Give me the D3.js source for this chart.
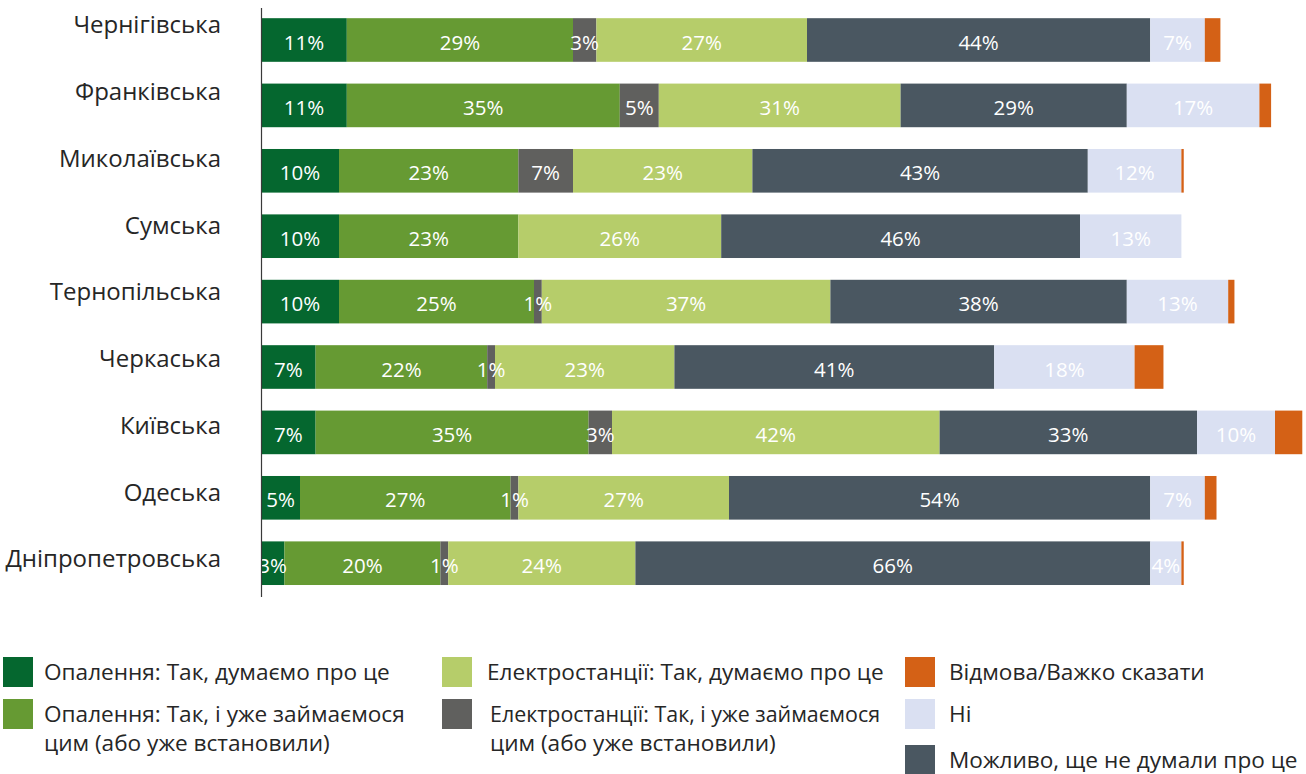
<!DOCTYPE html>
<html>
<head>
<meta charset="utf-8">
<script src="https://cdn.jsdelivr.net/npm/d3@7"></script>
<style>
  html, body { margin: 0; padding: 0; background: #ffffff; }
  svg { display: block; font-family: "Open Sans", "Noto Sans", sans-serif; }
</style>
</head>
<body>
<svg id="chart" width="1306" height="774"></svg>
<script>
// Regions (rows, top to bottom)
const regions = ["Чернігівська", "Франківська", "Миколаївська", "Сумська", "Тернопільська",
                 "Черкаська", "Київська", "Одеська", "Дніпропетровська"];

// Series values, in percent, one entry per region
const heatThinking  = [11, 11, 10, 10, 10, 7, 7, 5, 3];
const heatDoing     = [29, 35, 23, 23, 25, 22, 35, 27, 20];
const powerDoing    = [3, 5, 7, 0, 1, 1, 3, 1, 1];
const powerThinking = [27, 31, 23, 26, 37, 23, 42, 27, 24];
const maybeLater    = [44, 29, 43, 46, 38, 41, 33, 54, 66];
const answerNo      = [7, 17, 12, 13, 13, 18, 10, 7, 4];
const hardToSay     = [2, 1.5, 0.3, 0, 0.8, 3.7, 3.5, 1.5, 0.3];

// Series names as shown in the legend
const seriesNames = {
  heatThinking:  "Опалення: Так, думаємо про це",
  heatDoing:     "Опалення: Так, і уже займаємося\nцим (або уже встановили)",
  powerThinking: "Електростанції: Так, думаємо про це",
  powerDoing:    "Електростанції: Так, і уже займаємося\nцим (або уже встановили)",
  hardToSay:     "Відмова/Важко сказати",
  answerNo:      "Ні",
  maybeLater:    "Можливо, ще не думали про це"
};

const seriesColors = {
  heatThinking:  "#05672f",
  heatDoing:     "#669a33",
  powerDoing:    "#60605e",
  powerThinking: "#b6cd6a",
  maybeLater:    "#4a5761",
  answerNo:      "#dae0f2",
  hardToSay:     "#d46116"
};

// Stacking order left to right
const stackKeys = ["heatThinking", "heatDoing", "powerDoing", "powerThinking", "maybeLater", "answerNo", "hardToSay"];
const seriesValues = { heatThinking, heatDoing, powerDoing, powerThinking, maybeLater, answerNo, hardToSay };

// Keys that get value labels inside the bars
const labelledKeys = new Set(["heatThinking", "heatDoing", "powerDoing", "powerThinking", "maybeLater", "answerNo"]);

const rows = regions.map((r, i) => {
  const o = { region: r };
  stackKeys.forEach(k => o[k] = seriesValues[k][i]);
  return o;
});

const svg = d3.select("#chart");
const axisX = 261;

const x = d3.scaleLinear().domain([0, 100]).range([axisX, axisX + 780]);
const y = d3.scaleBand().domain(regions).range([7.3, 595.9]).paddingInner(0.333).paddingOuter(0.1665);
const yLabel = d3.scalePoint().domain(regions).range([25, 559]);

const stacked = d3.stack().keys(stackKeys)(rows);

const layers = svg.append("g").selectAll("g")
  .data(stacked)
  .join("g")
  .attr("fill", d => seriesColors[d.key]);

layers.selectAll("rect")
  .data(d => d.map(s => ({ key: d.key, s })))
  .join("rect")
  .attr("x", d => x(d.s[0]))
  .attr("y", d => y(d.s.data.region))
  .attr("width", d => Math.max(0, x(d.s[1]) - x(d.s[0])))
  .attr("height", y.bandwidth());

// Value labels
const labels = svg.append("g")
  .attr("font-size", 20.5)
  .attr("fill", "#ffffff")
  .attr("text-anchor", "middle");

stacked.forEach(layer => {
  if (!labelledKeys.has(layer.key)) return;
  layer.forEach(s => {
    const v = s[1] - s[0];
    if (v <= 0) return;
    labels.append("text")
      .attr("x", (x(s[0]) + x(s[1])) / 2)
      .attr("y", y(s.data.region) + y.bandwidth() / 2 + 2.5)
      .attr("dy", "0.35em")
      .text(d3.format(".0f")(v) + "%");
  });
});

// Category axis line
svg.append("line")
  .attr("x1", axisX + 0.5).attr("x2", axisX + 0.5)
  .attr("y1", 8).attr("y2", 597)
  .attr("stroke", "#3a3a3a").attr("stroke-width", 1.2);

// Region names
svg.append("g")
  .attr("font-size", 24)
  .attr("fill", "#262626")
  .attr("text-anchor", "end")
  .selectAll("text")
  .data(regions)
  .join("text")
  .attr("x", 221)
  .attr("y", d => yLabel(d))
  .attr("dy", "0.35em")
  .text(d => d);

// Legend
const legendCols = [
  { x: 3,   textX: 41, wrapX: 41, fitFirst: null, keys: ["heatThinking", "heatDoing"] },
  { x: 442, textX: 45, wrapX: 48, fitFirst: 390,  keys: ["powerThinking", "powerDoing"] },
  { x: 905, textX: 44, wrapX: 44, fitFirst: null, keys: ["hardToSay", "answerNo", "maybeLater"] }
];
const legendRowY = [657, 699, 745];
const legend = svg.append("g").attr("font-size", 22.6).attr("fill", "#262626");

legendCols.forEach(col => {
  col.keys.forEach((k, i) => {
    const g = legend.append("g").attr("transform", `translate(${col.x},${legendRowY[i]})`);
    g.append("rect").attr("width", 30).attr("height", 30).attr("fill", seriesColors[k]);
    const lines = seriesNames[k].split("\n");
    const tx = lines.length > 1 ? col.wrapX : col.textX;
    const t = g.append("text").attr("y", 15);
    lines.forEach((ln, j) => {
      const span = t.append("tspan").attr("x", tx).attr("dy", j === 0 ? "0.35em" : 29).text(ln);
      // keep the long wrapped line clear of the next column's swatch
      if (lines.length > 1 && j === 0 && col.fitFirst) {
        span.attr("textLength", col.fitFirst).attr("lengthAdjust", "spacingAndGlyphs");
      }
    });
  });
});
</script>
</body>
</html>
